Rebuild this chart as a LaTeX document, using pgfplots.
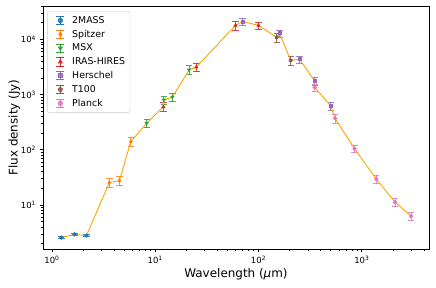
\documentclass[border=0pt]{standalone}
\usepackage{fontspec}
\setmainfont{DejaVu Sans}
\usepackage{pgfplots}
\pgfplotsset{compat=1.18}
\definecolor{cA}{HTML}{1F77B4}
\definecolor{cB}{HTML}{FF7F0E}
\definecolor{cC}{HTML}{2CA02C}
\definecolor{cD}{HTML}{D62728}
\definecolor{cE}{HTML}{9467BD}
\definecolor{cF}{HTML}{8C564B}
\definecolor{cG}{HTML}{E377C2}
\definecolor{lineor}{HTML}{FFA500}
\pgfplotsset{
  errplot/.style={only marks, mark size=1.7bp, line width=0.8bp,
    error bars/y dir=both, error bars/y explicit relative,
    error bars/error bar style={line width=0.8bp, opacity=0.85},
    error bars/error mark options={rotate=90, mark size=3.2bp, line width=0.8bp}},
  errlegend/.style={legend image code/.code={
    \path (0bp,0bp) (19bp,0bp);
    \draw[##1, mark=none, line width=0.8bp] (9.5bp,-4.2bp) -- (9.5bp,4.2bp);
    \draw[##1, mark=none, line width=0.8bp] (5.5bp,-4.2bp) -- (13.5bp,-4.2bp);
    \draw[##1, mark=none, line width=0.8bp] (5.5bp,4.2bp) -- (13.5bp,4.2bp);
    \draw[##1, mark size=2.2bp] plot coordinates {(9.5bp,0bp)};
  }},
}
\begin{document}
\begin{tikzpicture}
\begin{axis}[
  at={(0,0)}, anchor=south west,
  scale only axis, width=386bp, height=243bp,
  xmode=log, ymode=log,
  xmin=0.82, xmax=4470, ymin=1.6, ymax=40100,
  xtick={1,10,100,1000},
  xticklabels={10\textsuperscript{0},10\textsuperscript{1},10\textsuperscript{2},10\textsuperscript{3}},
  minor xtick={2,3,4,5,6,7,8,9,20,30,40,50,60,70,80,90,200,300,400,500,600,700,800,900,2000,3000,4000},
  ytick={10,100,1000,10000},
  yticklabels={10\textsuperscript{1},10\textsuperscript{2},10\textsuperscript{3},10\textsuperscript{4}},
  minor ytick={2,3,4,5,6,7,8,9,20,30,40,50,60,70,80,90,200,300,400,500,600,700,800,900,2000,3000,4000,5000,6000,7000,8000,9000,20000,30000,40000},
  tick align=outside, xtick pos=bottom, ytick pos=left,
  major tick length=3.5bp, minor tick length=2bp,
  every tick/.style={black, line width=0.8bp},
  minor tick style={line width=0.6bp},
  tick label style={font=\fontsize{8.5}{10}\selectfont},
  axis line style={line width=0.8bp},
  xlabel={Wavelength ({\itshape μ}m)},
  ylabel={Flux density (Jy)},
  label style={font=\fontsize{12}{14}\selectfont},
  xlabel style={yshift=2bp},
  ylabel style={yshift=-6bp},
  legend style={at={(0.011,0.979)}, anchor=north west, draw=black!20,
    rounded corners=2bp, fill=white, fill opacity=0.8, text opacity=1,
    font=\fontsize{9.4}{10}\selectfont, row sep=1.3bp, inner xsep=3bp, inner ysep=3bp},
  legend cell align=left,
  errlegend,
]
\addplot[errplot, color=cA, mark=*] table[x=x,y=y,y error=e] {
x y e
1.235 2.57 0.05
1.662 2.95 0.05
2.159 2.79 0.05
};
\addlegendentry{2MASS}
\addplot[errplot, color=cB, mark=diamond*] table[x=x,y=y,y error=e] {
x y e
3.6 25.5 0.17
4.5 27.5 0.18
5.8 140 0.18
};
\addlegendentry{Spitzer}
\addplot[errplot, color=cC, mark=triangle*, mark options={rotate=180}] table[x=x,y=y,y error=e] {
x y e
8.28 305 0.18
12.13 800 0.18
14.65 900 0.18
21.3 2800 0.18
};
\addlegendentry{MSX}
\addplot[errplot, color=cD, mark=triangle*] table[x=x,y=y,y error=e] {
x y e
12 600 0.18
25 3150 0.18
60 17900 0.18
100 17900 0.15
};
\addlegendentry{IRAS-HIRES}
\addplot[errplot, color=cE, mark=square*, mark size=1.5bp] table[x=x,y=y,y error=e] {
x y e
70 21000 0.15
160 12800 0.15
250 4350 0.15
350 1750 0.15
500 620 0.15
};
\addlegendentry{Herschel}
\addplot[errplot, color=cF, mark=pentagon*] table[x=x,y=y,y error=e] {
x y e
150 10900 0.18
205 4150 0.18
};
\addlegendentry{T100}
\addplot[errplot, color=cG, mark=*] table[x=x,y=y,y error=e] {
x y e
350 1350 0.15
550 372 0.18
850 105 0.15
1380 29.5 0.18
2100 11.3 0.18
3000 6.3 0.18
};
\addlegendentry{Planck}
\addplot[color=lineor, line width=0.9bp, mark=none, forget plot] table {
1.235 2.57
1.662 2.95
2.159 2.79
3.6 25.5
4.5 27.5
5.8 140
8.28 305
12 600
12.13 800
14.65 900
21.3 2800
25 3150
60 17900
70 21000
100 17900
150 10900
160 12800
205 4150
250 4350
350 1750
350 1350
500 620
550 372
850 105
1380 29.5
2100 11.3
3000 6.3
};
\end{axis}
\pgfresetboundingbox
\path[use as bounding box] (-43bp,-39bp) rectangle (393bp,249bp);
\end{tikzpicture}
\end{document}
